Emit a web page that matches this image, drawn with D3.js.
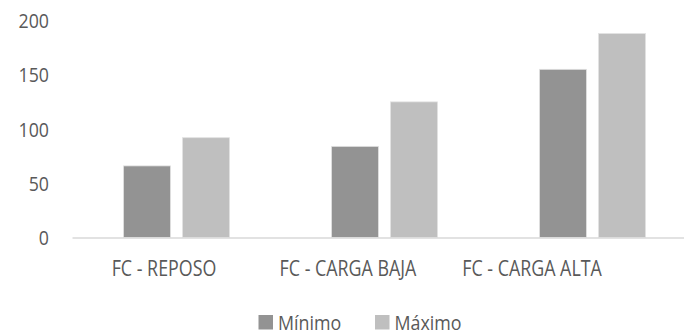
<!DOCTYPE html>
<html>
<head>
<meta charset="utf-8">
<script src="https://cdn.jsdelivr.net/npm/d3@7"></script>
<style>
  html, body { margin: 0; padding: 0; background: #fff; }
  svg { display: block; }
  text { font-family: "Open Sans", Lato, sans-serif; fill: #595959; }
</style>
</head>
<body>
<svg id="chart" width="684" height="335"></svg>
<script>
// Heart rate (FC) under three conditions: minimum and maximum values
const categories = ["FC - REPOSO", "FC - CARGA BAJA", "FC - CARGA ALTA"];
const seriesNames = ["Mínimo", "Máximo"];
const minimo = [66, 84, 155];
const maximo = [92, 125, 188];
const yTicks = [0, 50, 100, 150, 200];

const colors = { "Mínimo": "#939393", "Máximo": "#bfbfbf" };

const svg = d3.select("#chart");
const W = 684, H = 335;

const plot = { left: 72.5, right: 696.5, top: 20.5, bottom: 237.5 };

const x = d3.scaleBand()
  .domain(categories)
  .range([plot.left, plot.right]);

// inner band for the two series within each category
const xs = d3.scaleBand()
  .domain(seriesNames)
  .range([0, x.bandwidth()])
  .paddingInner(0.203)
  .paddingOuter(0.864);

const y = d3.scaleLinear().domain([0, 200]).range([plot.bottom, plot.top]);

// category label positions
const xLabel = d3.scalePoint()
  .domain(categories)
  .range([164, 532]);

// narrower, Calibri-like set width
function squeeze(k) {
  return sel => sel.each(function () {
    const len = this.getComputedTextLength();
    d3.select(this)
      .attr("textLength", len * k)
      .attr("lengthAdjust", "spacingAndGlyphs");
  });
}

// y axis labels (no line, no ticks)
const yAxis = d3.axisLeft(y).tickValues(yTicks).tickSize(0).tickPadding(0);
const gy = svg.append("g").attr("transform", "translate(49,0)").call(yAxis);
gy.select(".domain").remove();
gy.selectAll("text")
  .attr("font-family", "'Open Sans', Lato, sans-serif")
  .attr("font-size", 19.5)
  .attr("fill", "#595959")
  .attr("dy", "0.36em")
  .call(squeeze(0.91));

// bars
const rows = categories.map((c, i) => ({ cat: c, values: [
  { s: "Mínimo", v: minimo[i] },
  { s: "Máximo", v: maximo[i] }
]}));

const groups = svg.append("g").selectAll("g")
  .data(rows).join("g")
  .attr("transform", d => `translate(${x(d.cat)},0)`);

groups.selectAll("rect")
  .data(d => d.values).join("rect")
  .attr("x", d => xs(d.s))
  .attr("width", xs.bandwidth())
  .attr("y", d => y(d.v))
  .attr("height", d => y(0) - y(d.v))
  .attr("fill", d => colors[d.s])
  .attr("stroke", "#e3e3e3")
  .attr("stroke-width", 0.8);

// baseline
svg.append("line")
  .attr("x1", plot.left).attr("x2", W)
  .attr("y1", y(0) + 0.5).attr("y2", y(0) + 0.5)
  .attr("stroke", "#d9d9d9")
  .attr("stroke-width", 1.5);

// category labels
svg.append("g").selectAll("text")
  .data(categories).join("text")
  .attr("x", d => xLabel(d))
  .attr("y", 275.5)
  .attr("text-anchor", "middle")
  .attr("font-size", 21)
  .text(d => d)
  .call(squeeze(0.85));

// legend
const legend = svg.append("g");
const legendItems = [
  { s: "Mínimo", x: 258.5 },
  { s: "Máximo", x: 375 }
];
legendItems.forEach(it => {
  legend.append("rect")
    .attr("x", it.x).attr("y", 315)
    .attr("width", 14.5).attr("height", 14.5)
    .attr("fill", colors[it.s]);
  legend.append("text")
    .attr("x", it.x + 19.5).attr("y", 330)
    .attr("font-size", 20.5)
    .text(it.s)
    .call(squeeze(0.87));
});
</script>
</body>
</html>
